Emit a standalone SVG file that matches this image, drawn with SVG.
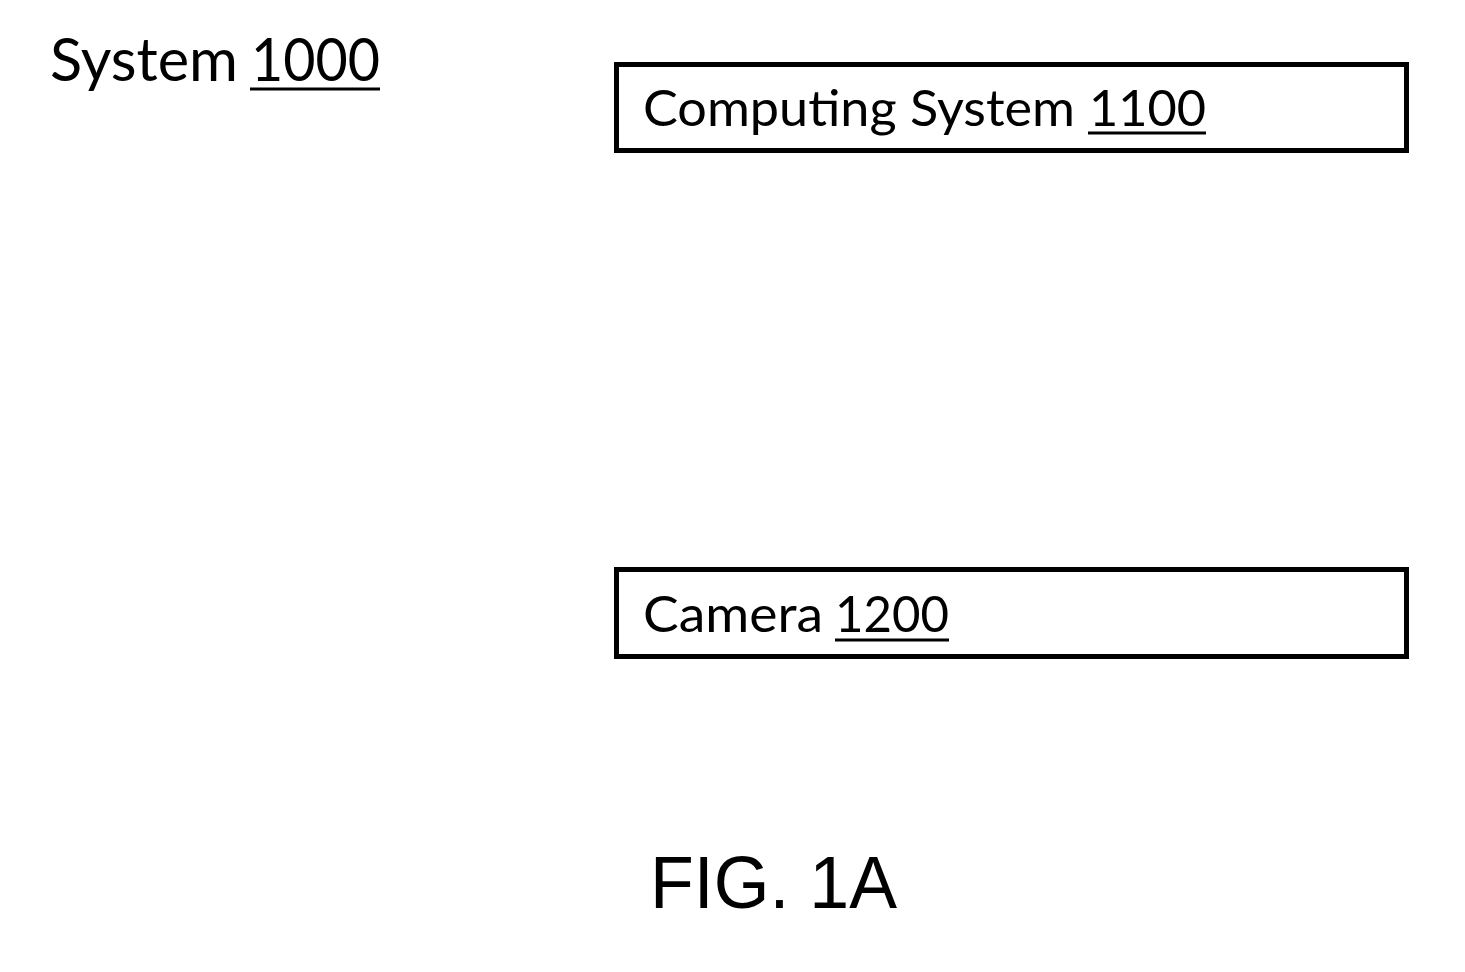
<svg xmlns="http://www.w3.org/2000/svg" width="1465" height="972" viewBox="0 0 1465 972">
<style>
.lbl{font-family:Lato,"Open Sans","Liberation Sans",sans-serif;fill:#000}
.box{fill:#fff;stroke:#000;stroke-width:5}
.ul{stroke:#000;stroke-width:3}
.fig{font-family:"Liberation Sans",Arial,sans-serif;font-size:74px;fill:#000}
</style>
<rect width="1465" height="972" fill="#fff"/>
<g id="system1000">
<text class="lbl" x="50" y="81" font-size="60" textLength="188" lengthAdjust="spacingAndGlyphs">System</text>
<text class="lbl" x="251" y="81" font-size="60" textLength="129" lengthAdjust="spacingAndGlyphs">1000</text>
<line class="ul" x1="250" y1="89" x2="380" y2="89"/>
</g>
<g id="computing1100">
<rect class="box" x="616.5" y="64.5" width="790" height="86"/>
<text class="lbl" x="643" y="126" font-size="50" textLength="432" lengthAdjust="spacingAndGlyphs">Computing System</text>
<text class="lbl" x="1089" y="126" font-size="50" textLength="117" lengthAdjust="spacingAndGlyphs">1100</text>
<line class="ul" x1="1088" y1="133" x2="1206" y2="133"/>
</g>
<g id="camera1200">
<rect class="box" x="616.5" y="569.5" width="790" height="87"/>
<text class="lbl" x="643" y="632" font-size="50" textLength="180" lengthAdjust="spacingAndGlyphs">Camera</text>
<text class="lbl" x="835" y="632" font-size="50" textLength="114" lengthAdjust="spacingAndGlyphs">1200</text>
<line class="ul" x1="835" y1="640" x2="949" y2="640"/>
</g>
<g id="connectors"></g>
<text class="fig" x="650" y="908" textLength="247" lengthAdjust="spacingAndGlyphs">FIG. 1A</text>
</svg>
